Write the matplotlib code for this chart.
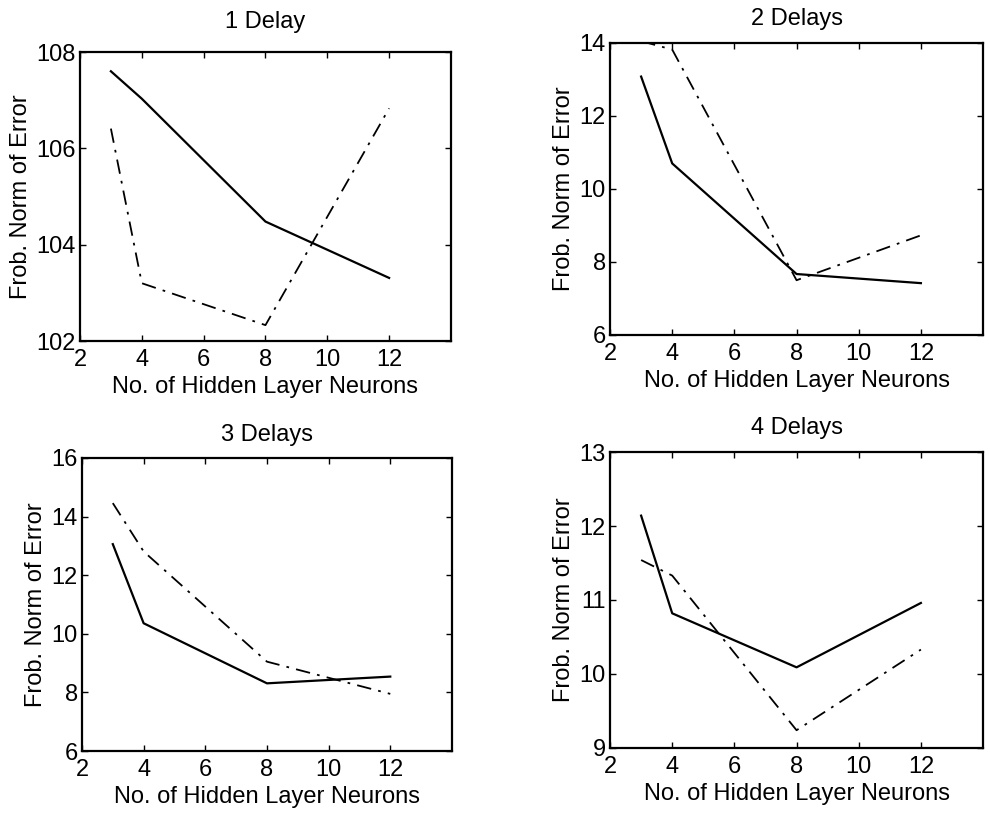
import matplotlib.pyplot as plt

plt.rcParams['font.family'] = ['Liberation Sans', 'DejaVu Sans']

neurons = [3, 4, 8, 12]

titles = ['1 Delay', '2 Delays', '3 Delays', '4 Delays']

solid_vals = [
    [107.6, 107.03, 104.48, 103.31],
    [13.08, 10.70, 7.67, 7.42],
    [13.06, 10.36, 8.31, 8.54],
    [12.14, 10.82, 10.09, 10.96],
]

dashdot_vals = [
    [106.41, 103.2, 102.33, 106.83],
    [14.05, 13.82, 7.5, 8.73],
    [14.46, 12.81, 9.05, 7.95],
    [11.54, 11.33, 9.24, 10.33],
]

y_limits = [(102, 108), (6, 14), (6, 16), (9, 13)]
y_ticks = [
    [102, 104, 106, 108],
    [6, 8, 10, 12, 14],
    [6, 8, 10, 12, 14, 16],
    [9, 10, 11, 12, 13],
]
x_ticks = [2, 4, 6, 8, 10, 12]

# axes boxes in figure fractions [left, bottom, width, height]
boxes = [
    [0.0808, 0.5836, 0.3747, 0.3529],
    [0.6162, 0.5910, 0.3768, 0.3565],
    [0.0828, 0.0830, 0.3737, 0.3578],
    [0.6162, 0.0867, 0.3768, 0.3614],
]
title_pads = [17, 13, 12, 13]

fig = plt.figure(figsize=(9.9, 8.19), dpi=100)

for i in range(4):
    ax = fig.add_axes(boxes[i])
    ax.plot(neurons, solid_vals[i], color='black', linewidth=1.6, linestyle='-')
    ax.plot(neurons, dashdot_vals[i], color='black', linewidth=1.3,
            linestyle=(0, (8, 4, 1.5, 4)))
    ax.set_xlim(2, 14)
    ax.set_ylim(*y_limits[i])
    ax.set_xticks(x_ticks)
    ax.set_yticks(y_ticks[i])
    ax.tick_params(direction='in', top=True, right=True, length=4,
                   width=1, labelsize=17, pad=3)
    ax.tick_params(axis='x', pad=5.5)
    for sp in ax.spines.values():
        sp.set_linewidth(1.6)
    ax.set_title(titles[i], fontsize=17, pad=title_pads[i])
    ax.set_xlabel('No. of Hidden Layer Neurons', fontsize=17, labelpad=4)
    ax.set_ylabel('Frob. Norm of Error', fontsize=17, labelpad=3)

fig.savefig('out.png', dpi=100)
